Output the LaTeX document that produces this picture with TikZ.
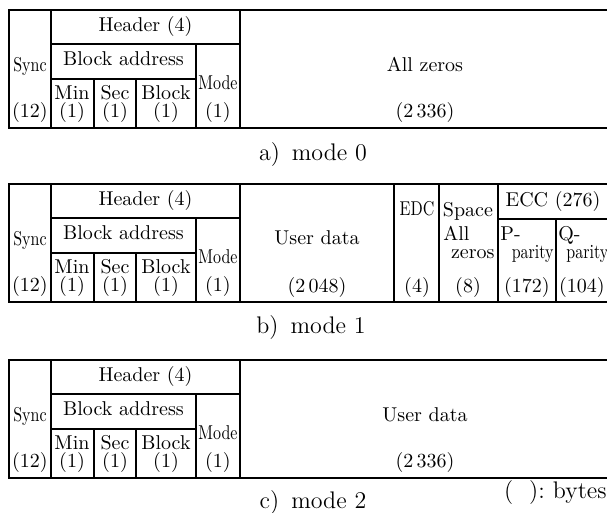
\documentclass[tikz,border=0pt]{standalone}
\usepackage{graphicx}
\usepackage{tikz}
\newcommand{\narrowtext}[1]{\scalebox{0.8}[1]{#1}}

\begin{document}
\begin{tikzpicture}[
  x=0.5pt, y=-0.5pt,
  frame/.style={line width=1pt},
  rule/.style={line width=0.7pt},
  cell/.style={inner sep=0pt, text height=7pt, text depth=2pt, font=\normalsize},
  tight/.style={inner sep=0pt, font=\normalsize},
  caption/.style={inner sep=0pt, text height=8pt, text depth=2pt, font=\large}
]
\useasboundingbox (0,0) rectangle (607,513);
\clip (0,0) rectangle (607,513);
% sync and header, the same in every mode
\foreach \t/\k in {10/a,184/b,360/c}{
  \draw[frame] (609,\t) -- (9,\t) -- (9,\t+118) -- (609,\t+118);
  \draw[rule] (51,\t) -- (51,\t+118) (240,\t) -- (240,\t+118)
    (51,\t+34) -- (240,\t+34) (51,\t+69) -- (196,\t+69)
    (196,\t+34) -- (196,\t+118) (94,\t+69) -- (94,\t+118)
    (136,\t+69) -- (136,\t+118);
  \node[cell] (header-\k) at (145.5,\t+17) {Header (4)};
  \node[cell] (address-\k) at (123.5,\t+51) {Block address};
  \node[cell] (sync-\k) at (30,\t+57) {\narrowtext{Sync}};
  \node[cell] (syncn-\k) at (30,\t+103) {(12)};
  \node[cell] (min-\k) at (72,\t+85) {Min};
  \node[cell] (minn-\k) at (72,\t+103) {(1)};
  \node[cell] (sec-\k) at (115,\t+85) {Sec};
  \node[cell] (secn-\k) at (115,\t+103) {(1)};
  \node[cell] (block-\k) at (166,\t+85) {Block};
  \node[cell] (blockn-\k) at (166,\t+103) {(1)};
  \node[cell] (mode-\k) at (218,\t+75) {\narrowtext{Mode}};
  \node[cell] (moden-\k) at (218,\t+103) {(1)};
}
% a) mode 0
\node[cell] (zeros-a) at (425,67) {All zeros};
\node[cell] (zerosn-a) at (425,113) {(2\,336)};
\node[caption] (cap-a) at (313,155) {a)\enspace mode 0};
% b) mode 1
\draw[rule] (394,184) -- (394,302) (439,184) -- (439,302)
  (498,184) -- (498,302) (556,219) -- (556,302) (498,219) -- (609,219);
\node[cell] (data-b) at (317,240) {User data};
\node[cell] (datan-b) at (317,288) {(2\,048)};
\node[cell] (edc-b) at (417,211) {\narrowtext{EDC}};
\node[cell] (edcn-b) at (417,288) {(4)};
\node[cell] (space-b) at (468,212) {Space};
\node[tight, anchor=base west] (all-b) at (443,241) {All};
\node[tight, anchor=base east] (zeros-b) at (495,259) {zeros};
\node[cell] (spacen-b) at (468,288) {(8)};
\node[cell] (ecc-b) at (553,202) {ECC (276)};
\node[tight, anchor=base west] (p-b) at (500,241) {P-};
\node[tight, anchor=base east] (pparity-b) at (554,259) {\narrowtext{parity}};
\node[cell] (pn-b) at (527,288) {(172)};
\node[tight, anchor=base west] (q-b) at (558,241) {Q-};
\node[tight, anchor=base west] (qparity-b) at (566,259) {\narrowtext{parity}};
\node[cell] (qn-b) at (582,288) {(104)};
\node[caption] (cap-b) at (311,328) {b)\enspace mode 1};
% c) mode 2
\node[cell] (data-c) at (425,417) {User data};
\node[cell] (datan-c) at (425,463) {(2\,336)};
\node[caption] (cap-c) at (313,503) {c)\enspace mode 2};
\node[caption, anchor=east] (bytes) at (607,493) {(\hspace{8pt}):\hspace{4pt}bytes};
\end{tikzpicture}
\end{document}
